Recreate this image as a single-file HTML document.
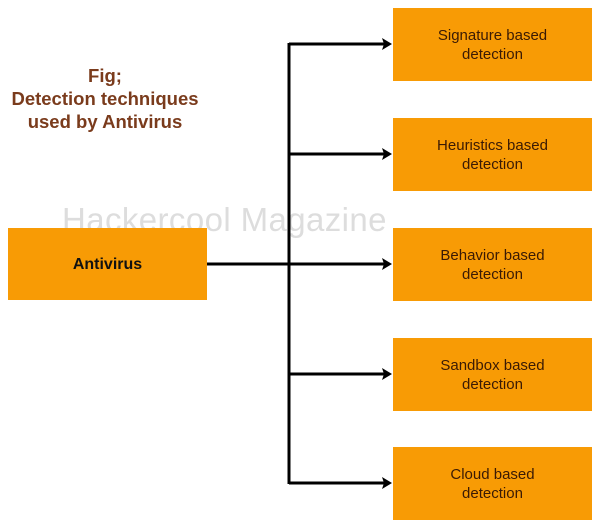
<!DOCTYPE html>
<html><head><style>
body{margin:0;width:600px;height:527px;background:#fff;position:relative;overflow:hidden;font-family:"Liberation Sans",Arial,sans-serif}
.b{position:absolute;background:#f89b05;display:flex;align-items:center;justify-content:center;text-align:center;font-size:15px;line-height:19px;color:#3a1a05}
.r{left:393px;width:199px;height:73px}
.t{position:absolute;left:0px;width:210px;text-align:center;color:#7a3b1c;font-weight:bold;font-size:18.5px;line-height:23px;top:64px}
.w{position:absolute;left:62px;top:201px;font-size:33px;color:#ddd;letter-spacing:0.4px}
</style></head><body>
<div class="t">Fig;<br>Detection techniques<br>used by Antivirus</div>
<div class="w">Hackercool Magazine</div>
<div class="b" style="left:8px;top:228px;width:199px;height:72px;font-weight:bold;font-size:16px;color:#111">Antivirus</div>
<div class="b r" style="top:8px">Signature based<br>detection</div>
<div class="b r" style="top:118px">Heuristics based<br>detection</div>
<div class="b r" style="top:228px">Behavior based<br>detection</div>
<div class="b r" style="top:338px">Sandbox based<br>detection</div>
<div class="b r" style="top:447px">Cloud based<br>detection</div>
<svg width="600" height="527" style="position:absolute;left:0;top:0">
<g stroke="#000" stroke-width="3" fill="none">
<line x1="289" y1="43" x2="289" y2="484"/>
<line x1="207" y1="264" x2="385" y2="264"/>
<line x1="289" y1="44" x2="385" y2="44"/>
<line x1="289" y1="154" x2="385" y2="154"/>
<line x1="289" y1="374" x2="385" y2="374"/>
<line x1="289" y1="483" x2="385" y2="483"/>
</g>
<g fill="#000">
<polygon points="392,44 382,38 384,44 382,50"/>
<polygon points="392,154 382,148 384,154 382,160"/>
<polygon points="392,264 382,258 384,264 382,270"/>
<polygon points="392,374 382,368 384,374 382,380"/>
<polygon points="392,483 382,477 384,483 382,489"/>
</g>
</svg>
</body></html>
